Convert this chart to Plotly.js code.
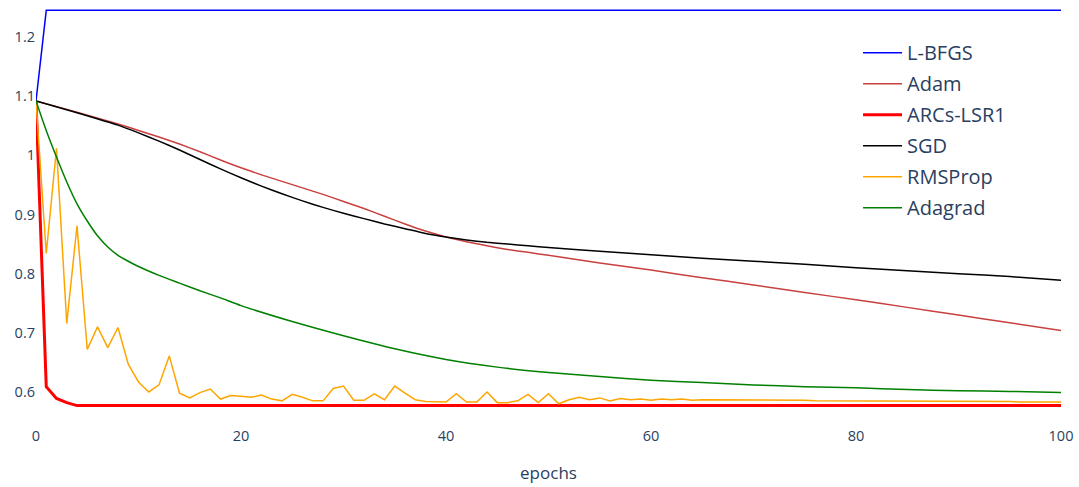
<!DOCTYPE html>
<html>
<head>
<meta charset="utf-8">
<script src="https://cdn.plot.ly/plotly-3.0.1.min.js"></script>
<style>
  html, body { margin: 0; padding: 0; background: #ffffff; }
  #chart { width: 1079px; height: 487px; }
</style>
</head>
<body>
<div id="chart"></div>
<script>
// ---- data ----
const epochs = [0,1,2,3,4,5,6,7,8,9,10,11,12,13,14,15,16,17,18,19,20,21,22,23,24,25,26,27,28,29,30,
  31,32,33,34,35,36,37,38,39,40,41,42,43,44,45,46,47,48,49,50,51,52,53,54,55,56,57,58,59,60,
  61,62,63,64,65,66,67,68,69,70,71,72,73,74,75,76,77,78,79,80,81,82,83,84,85,86,87,88,89,90,
  91,92,93,94,95,96,97,98,99,100];

const lbfgsEpochs = [0, 1, 100];
const lbfgsLoss = [1.092, 1.245, 1.245];

const smoothEpochs = [0,4,8,10,12,14,16,18,20,22,24,26,28,30,32,34,36,38,40,42,44,46,48,50,55,60,65,70,75,80,85,90,95,100];
const adamLoss = [1.092,1.073,1.053,1.042,1.031,1.019,1.006,0.992,0.979,0.967,0.956,0.945,0.934,0.922,0.910,0.897,0.884,0.872,0.862,0.854,0.847,0.841,0.836,0.831,0.818,0.806,0.793,0.781,0.768,0.756,0.743,0.730,0.717,0.704];
const sgdLoss  = [1.092,1.072,1.051,1.038,1.024,1.009,0.993,0.977,0.962,0.948,0.935,0.923,0.912,0.902,0.893,0.884,0.876,0.868,0.862,0.857,0.853,0.850,0.847,0.844,0.838,0.832,0.826,0.821,0.816,0.810,0.805,0.800,0.795,0.789];

const arcsLoss = [1.092,0.609,0.589,0.582,0.577,0.577,0.577,0.577,0.577,0.577,0.577,
  0.577,0.577,0.577,0.577,0.577,0.577,0.577,0.577,0.577,0.577,
  0.577,0.577,0.577,0.577,0.577,0.577,0.577,0.577,0.577,0.577,
  0.577,0.577,0.577,0.577,0.577,0.577,0.577,0.577,0.577,0.577,
  0.577,0.577,0.577,0.577,0.577,0.577,0.577,0.577,0.577,0.577,
  0.577,0.577,0.577,0.577,0.577,0.577,0.577,0.577,0.577,0.577,
  0.577,0.577,0.577,0.577,0.577,0.577,0.577,0.577,0.577,0.577,
  0.577,0.577,0.577,0.577,0.577,0.577,0.577,0.577,0.577,0.577,
  0.577,0.577,0.577,0.577,0.577,0.577,0.577,0.577,0.577,0.577,
  0.577,0.577,0.577,0.577,0.577,0.577,0.577,0.577,0.577,0.577];

const rmspropLoss = [1.092,0.834,1.012,0.716,0.881,0.672,0.710,0.675,0.709,0.647,0.617,
  0.600,0.612,0.661,0.598,0.590,0.599,0.605,0.588,0.594,0.593,
  0.591,0.595,0.588,0.585,0.596,0.591,0.585,0.585,0.606,0.610,
  0.586,0.586,0.597,0.587,0.610,0.598,0.587,0.584,0.583,0.583,
  0.597,0.583,0.583,0.600,0.582,0.582,0.585,0.596,0.582,0.597,
  0.580,0.587,0.591,0.587,0.590,0.585,0.589,0.587,0.588,0.586,
  0.588,0.587,0.588,0.586,0.587,0.587,0.586,0.586,0.586,0.586,
  0.586,0.586,0.586,0.586,0.586,0.585,0.585,0.585,0.585,0.585,
  0.585,0.585,0.585,0.585,0.585,0.585,0.585,0.585,0.584,0.584,
  0.584,0.584,0.584,0.584,0.584,0.583,0.583,0.583,0.583,0.583];

const adagradEpochs = [0,1,2,3,4,5,6,7,8,9,10,12,14,16,18,20,25,30,35,40,45,50,55,60,65,70,75,80,85,90,95,100];
const adagradLoss = [1.092,1.042,0.997,0.955,0.918,0.889,0.864,0.845,0.831,0.821,0.812,0.797,0.784,0.771,0.759,0.746,0.719,0.695,0.673,0.655,0.642,0.633,0.626,0.620,0.616,0.612,0.609,0.607,0.604,0.602,0.601,0.599];

const yTickVals = [0.6, 0.7, 0.8, 0.9, 1, 1.1, 1.2];
const yTickText = ['0.6', '0.7', '0.8', '0.9', '1', '1.1', '1.2'];
const xTickVals = [0, 20, 40, 60, 80, 100];

// ---- traces ----
const traces = [
  {x: lbfgsEpochs, y: lbfgsLoss, name: 'L-BFGS', legendgroup: 'g1', mode: 'lines', line: {color: '#0000ff', width: 1.5}},
  {x: smoothEpochs, y: adamLoss, name: 'Adam', legendgroup: 'g2', mode: 'lines', line: {color: '#c8403f', width: 1.5, shape: 'spline', smoothing: 0.6}},
  {x: epochs, y: arcsLoss, name: 'ARCs-LSR1', legendgroup: 'g3', mode: 'lines', line: {color: '#ff0000', width: 3}},
  {x: smoothEpochs, y: sgdLoss, name: 'SGD', legendgroup: 'g4', mode: 'lines', line: {color: '#000000', width: 1.5, shape: 'spline', smoothing: 0.6}},
  {x: epochs, y: rmspropLoss, name: 'RMSProp', legendgroup: 'g5', mode: 'lines', line: {color: '#ffa500', width: 1.5}},
  {x: adagradEpochs, y: adagradLoss, name: 'Adagrad', legendgroup: 'g6', mode: 'lines', line: {color: '#008000', width: 1.5, shape: 'spline', smoothing: 0.6}}
];

const layout = {
  width: 1079,
  height: 487,
  margin: {l: 36, r: 18, t: 0, b: 62},
  paper_bgcolor: '#ffffff',
  plot_bgcolor: '#ffffff',
  font: {family: '"Open Sans", sans-serif', color: '#2a3f5f', size: 14.5},
  xaxis: {
    range: [0, 100],
    tickvals: xTickVals,
    showgrid: false,
    zeroline: false,
    showline: false,
    ticks: '',
    tickfont: {size: 14.5, color: '#2a3f5f'},
    title: {text: 'epochs', font: {size: 17, color: '#2a3f5f'}, standoff: 23}
  },
  yaxis: {
    range: [0.5442, 1.2625],
    tickvals: yTickVals,
    ticktext: yTickText,
    showgrid: false,
    zeroline: false,
    showline: false,
    ticks: '',
    tickfont: {size: 14.5, color: '#2a3f5f'}
  },
  legend: {
    x: 0.802,
    y: 0.922,
    xanchor: 'left',
    yanchor: 'top',
    bgcolor: 'rgba(0,0,0,0)',
    font: {size: 20, color: '#2a3f5f'},
    itemwidth: 39,
    traceorder: 'grouped',
    tracegroupgap: 2
  },
  showlegend: true
};

Plotly.newPlot('chart', traces, layout, {displayModeBar: false, staticPlot: true});
</script>
</body>
</html>
